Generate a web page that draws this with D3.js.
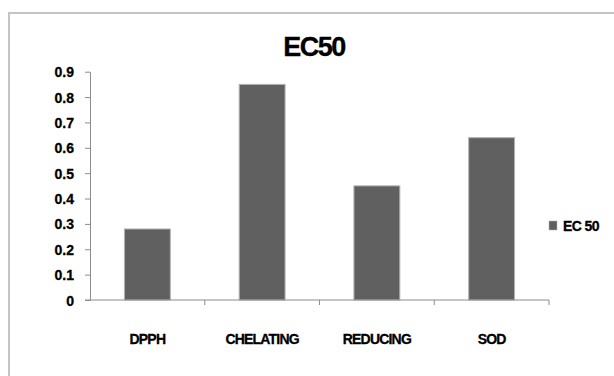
<!DOCTYPE html>
<html>
<head>
<meta charset="utf-8">
<script src="https://cdn.jsdelivr.net/npm/d3@7"></script>
<style>
  html, body { margin: 0; padding: 0; background: #fff; }
  svg { display: block; }
  text { font-family: "Liberation Sans", Arial, sans-serif; font-weight: bold; fill: #000; stroke: #000; stroke-width: 0.3px; }
</style>
</head>
<body>
<svg id="chart" width="614" height="376"></svg>
<script>
// EC50 values per assay
const categories = ["DPPH", "CHELATING", "REDUCING", "SOD"];
const ec50Values = [0.28, 0.85, 0.45, 0.64];
const yTicks = [0, 0.1, 0.2, 0.3, 0.4, 0.5, 0.6, 0.7, 0.8, 0.9];
const seriesName = "EC 50";
const chartTitle = "EC50";

const svg = d3.select("#chart");

// outer chart frame
svg.append("rect")
  .attr("x", 9).attr("y", 13)
  .attr("width", 640).attr("height", 400)
  .attr("fill", "#fff")
  .attr("stroke", "#c4c4c4")
  .attr("stroke-width", 2);

const plot = { left: 90, right: 549, top: 71.7, bottom: 300 };

const x = d3.scaleBand()
  .domain(categories)
  .range([plot.left, plot.right])
  .paddingInner(0.6)
  .paddingOuter(0.3);

const y = d3.scaleLinear()
  .domain([0, 0.9])
  .range([plot.bottom, plot.top]);

// title
svg.append("text")
  .attr("x", 314).attr("y", 56)
  .attr("text-anchor", "middle")
  .style("font-size", "27px")
  .style("letter-spacing", "-1.5px")
  .text(chartTitle);

// bars
svg.append("g").selectAll("rect")
  .data(categories.map((c, i) => ({ c, v: ec50Values[i] })))
  .join("rect")
  .attr("x", d => x(d.c))
  .attr("y", d => y(d.v))
  .attr("width", x.bandwidth())
  .attr("height", d => y(0) - y(d.v))
  .attr("fill", "#606060")
  .attr("stroke", "#b4b4b4")
  .attr("stroke-width", 1);

// y axis
const yAxis = svg.append("g")
  .attr("transform", `translate(${plot.left},0)`)
  .call(d3.axisLeft(y).tickValues(yTicks).tickFormat(d => d === 0 ? "0" : d3.format(".1f")(d)).tickSize(5).tickSizeOuter(0).tickPadding(11));
yAxis.select(".domain").attr("stroke", "#8c8c8c");
yAxis.selectAll(".tick line").attr("stroke", "#8c8c8c");
yAxis.selectAll("text").style("font-size", "14px").attr("fill", "#000").attr("dy", "0.36em");

// x axis with ticks at category boundaries
const bounds = [plot.left].concat(categories.map(c => x(c) + x.bandwidth() + x.step() * x.paddingInner() / 2));
bounds[bounds.length - 1] = plot.right;
const xAxis = svg.append("g").attr("class", "xaxis");
xAxis.append("line")
  .attr("x1", plot.left - 5).attr("x2", plot.right)
  .attr("y1", y(0)).attr("y2", y(0))
  .attr("stroke", "#8c8c8c");
xAxis.selectAll("line.tick")
  .data(bounds.slice(1))
  .join("line")
  .attr("class", "tick")
  .attr("x1", d => d).attr("x2", d => d)
  .attr("y1", y(0)).attr("y2", y(0) + 5)
  .attr("stroke", "#8c8c8c");
xAxis.selectAll("text")
  .data(categories)
  .join("text")
  .attr("x", d => x(d) + x.bandwidth() / 2)
  .attr("y", 344)
  .attr("text-anchor", "middle")
  .style("font-size", "14px")
  .style("letter-spacing", "-0.8px")
  .text(d => d);

// legend
const legend = svg.append("g").attr("transform", "translate(549,221)");
legend.append("rect")
  .attr("width", 8).attr("height", 9)
  .attr("fill", "#606060")
  .attr("stroke", "#b4b4b4").attr("stroke-width", 0.5);
legend.append("text")
  .attr("x", 14).attr("y", 10)
  .style("font-size", "14px")
  .style("letter-spacing", "-0.6px")
  .text(seriesName);
</script>
</body>
</html>
